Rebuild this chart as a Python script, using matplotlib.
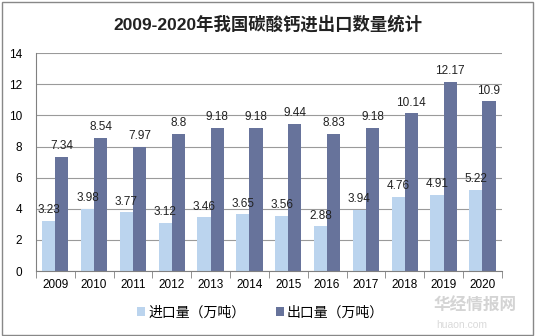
import numpy as np
import matplotlib.pyplot as plt
from matplotlib.patches import Rectangle

plt.rcParams['font.family'] = ['Liberation Sans', 'Noto Sans CJK SC', 'DejaVu Sans']

years = ['2009', '2010', '2011', '2012', '2013', '2014', '2015', '2016',
         '2017', '2018', '2019', '2020']
imports = [3.23, 3.98, 3.77, 3.12, 3.46, 3.65, 3.56, 2.88, 3.94, 4.76, 4.91, 5.22]
exports = [7.34, 8.54, 7.97, 8.8, 9.18, 9.18, 9.44, 8.83, 9.18, 10.14, 12.17, 10.9]

c_imp = '#BBD4EE'
c_exp = '#67739B'

fig = plt.figure(figsize=(5.35, 3.36), dpi=100)
ax = fig.add_axes([0.067, 0.193, 0.871, 0.649])

x = np.arange(len(years))
w = 0.34
b1 = ax.bar(x - w/2, imports, w, color=c_imp, label='进口量（万吨）', zorder=2)
b2 = ax.bar(x + w/2, exports, w, color=c_exp, label='出口量（万吨）', zorder=2)

for rect, v in zip(b1, imports):
    ax.text(rect.get_x() + rect.get_width()/2, v + 0.3, f'{v:g}',
            ha='center', va='bottom', fontsize=8.5, color='#222222', zorder=3)
for rect, v in zip(b2, exports):
    ax.text(rect.get_x() + rect.get_width()/2, v + 0.3, f'{v:g}',
            ha='center', va='bottom', fontsize=8.5, color='#222222', zorder=3)

ax.set_xlim(-0.5, len(years) - 0.5)
ax.set_ylim(0, 14)
ax.set_yticks(range(0, 15, 2))
ax.yaxis.grid(True, color='#9a9a9a', linewidth=0.8, zorder=0)
ax.set_xticks(x)
ax.set_xticklabels(years)
ax.set_xticks(np.arange(-0.5, len(years)), minor=True)
ax.tick_params(axis='x', which='major', length=0, labelsize=8.5, pad=6)
ax.tick_params(axis='x', which='minor', length=5, color='#808080', direction='out')
ax.tick_params(axis='y', length=0, labelsize=8.5, pad=10)

for s in ['top', 'right']:
    ax.spines[s].set_visible(False)
ax.spines['left'].set_color('#808080')
ax.spines['bottom'].set_color('#808080')

fig.suptitle('2009-2020年我国碳酸钙进出口数量统计', y=0.955, fontsize=12.5,
             fontweight='bold', color='#222222')

fig.legend(handles=[b1, b2], loc='center', bbox_to_anchor=(0.487, 0.07), ncol=2,
           frameon=False, fontsize=10, handlelength=0.6, handleheight=0.6,
           handletextpad=0.2, columnspacing=2.2)

# watermark
fig.text(0.81, 0.075, '华经情报网', fontsize=12, color='#d4d4d4', fontweight='bold', zorder=5)
fig.text(0.815, 0.025, 'huaon.com', fontsize=7.5, color='#dadada', zorder=5)

fig.patches.append(Rectangle((0.003, 0.004), 0.994, 0.99, transform=fig.transFigure,
                             fill=False, edgecolor='#888888', linewidth=1))

fig.savefig('out.png', dpi=100)
